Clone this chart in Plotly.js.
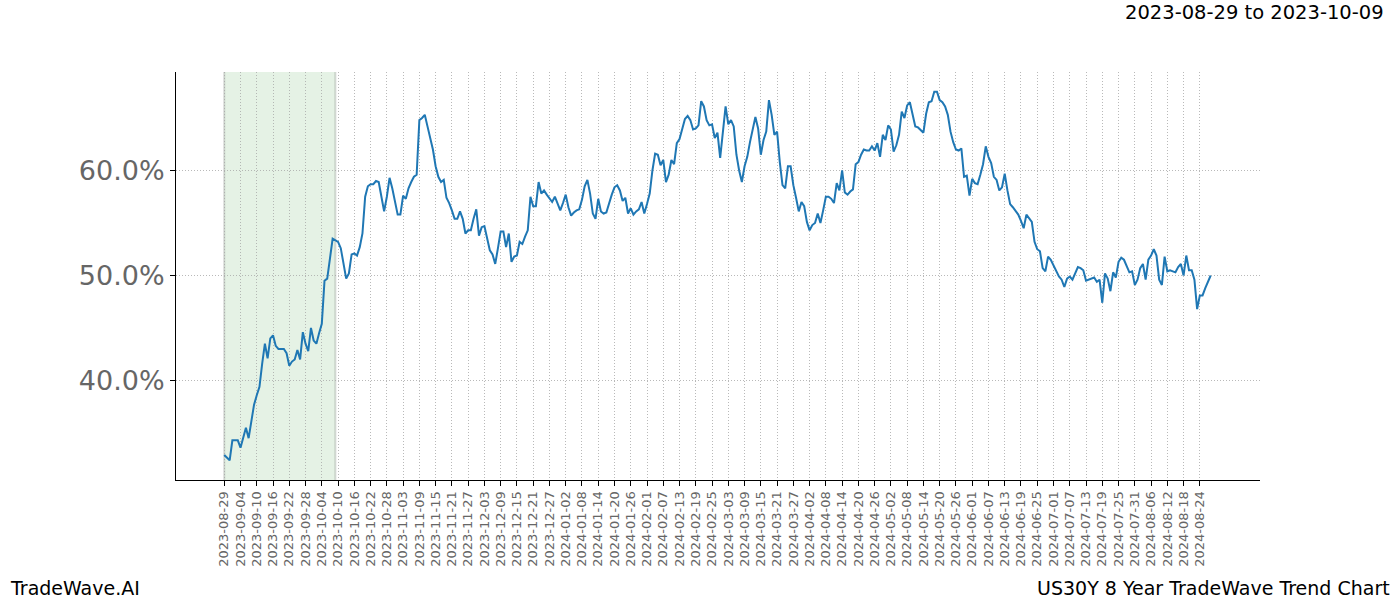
<!DOCTYPE html>
<html><head><meta charset="utf-8">
<script src="https://cdn.plot.ly/plotly-3.0.1.min.js"></script>
<style>html,body{margin:0;padding:0;background:#fff}#chart{width:1400px;height:600px}</style>
</head><body><div id="chart"></div>
<script>
const tickDates = [
 "2023-08-29","2023-09-04","2023-09-10","2023-09-16","2023-09-22","2023-09-28","2023-10-04","2023-10-10",
 "2023-10-16","2023-10-22","2023-10-28","2023-11-03","2023-11-09","2023-11-15","2023-11-21","2023-11-27",
 "2023-12-03","2023-12-09","2023-12-15","2023-12-21","2023-12-27","2024-01-02","2024-01-08","2024-01-14",
 "2024-01-20","2024-01-26","2024-02-01","2024-02-07","2024-02-13","2024-02-19","2024-02-25","2024-03-03",
 "2024-03-09","2024-03-15","2024-03-21","2024-03-27","2024-04-02","2024-04-08","2024-04-14","2024-04-20",
 "2024-04-26","2024-05-02","2024-05-08","2024-05-14","2024-05-20","2024-05-26","2024-06-01","2024-06-07",
 "2024-06-13","2024-06-19","2024-06-25","2024-07-01","2024-07-07","2024-07-13","2024-07-19","2024-07-25",
 "2024-07-31","2024-08-06","2024-08-12","2024-08-18","2024-08-24"
];
const tickStep = 6;

const pointIndex = [
 0,2,3,5,6,8,9,10,11,12,13,14,15,16,17,18,19,20,22,23,24,25,26,27,28,29,30,31,32,33,34,35,36,37,38,40,
 42,43,44,45,46,47,48,49,50,51,52,53,54,55,56,57,58,59,60,61,62,63,64,65,66,67,68,69,70,71,72,73,74,75,
 76,77,78,79,80,81,82,83,84,85,86,87,88,89,90,91,92,93,94,95,96,97,98,99,100,101,102,103,104,105,106,107,
 108,109,110,111,112,113,114,115,116,117,118,119,120,121,122,123,124,125,126,127,128,129,130,131,132,133,
 134,135,136,137,138,139,140,141,142,143,144,145,146,147,148,149,150,151,152,153,154,155,156,157,158,159,
 160,161,162,163,164,165,166,167,168,169,170,171,172,173,174,175,176,177,178,179,180,181,182,183,184,185,
 186,187,188,189,190,191,192,193,194,195,196,197,198,199,200,201,202,203,204,205,206,207,208,209,210,211,
 212,213,214,215,216,217,218,219,220,221,222,223,224,225,226,227,228,229,230,231,232,233,234,235,236,237,
 238,239,240,241,242,243,244,245,246,247,248,249,250,251,252,253,254,255,256,257,258,259,260,261,262,263,
 264,265,266,267,268,269,270,271,272,273,274,275,276,277,278,279,280,281,282,283,284,285,286,287,288,289,
 290,291,292,293,294,295,296,297,298,299,300,301,302,303,304,305,306,307,308,309,310,311,312,313,314,315,
 316,317,318,319,320,321,322,323,324,325,326,327,328,329,330,331,332,333,334,335,336,337,338,339,340,341,
 342,343,344,345,346,347,348,349,350,351,352,353,354,355,356,357,358,359,360,361,362,363,364
];
const trendPct = [
 32.9,32.4,34.3,34.3,33.6,35.5,34.5,36.2,37.7,38.6,39.4,41.6,43.5,42.1,44.0,44.3,43.3,43.0,43.0,42.6,41.4,41.8,42.0,42.9,42.0,44.6,43.5,42.8,45.0,43.8,43.5,44.5,45.4,49.5,49.7,53.5,
 53.2,52.6,51.2,49.7,50.2,52.0,52.1,51.9,52.7,54.0,57.5,58.5,58.7,58.7,59.0,58.9,57.5,56.1,57.5,59.3,58.3,57.2,55.8,55.8,57.6,57.3,58.3,58.9,59.4,59.6,64.8,65.0,65.3,64.2,
 63.2,62.0,60.4,59.4,58.9,59.1,57.4,56.9,56.2,55.4,55.4,56.1,55.4,54.0,54.3,54.3,55.4,56.3,53.8,54.6,54.7,53.4,52.4,52.0,51.1,52.6,54.2,54.2,52.7,54.0,51.3,51.8,
 51.9,53.2,53.0,53.7,54.3,57.5,56.6,56.6,58.9,57.8,58.1,57.7,57.3,57.0,57.5,56.9,56.2,56.9,57.7,56.5,55.7,56.0,56.2,56.3,57.2,58.5,
 59.1,57.8,55.9,55.4,57.3,56.1,55.9,56.0,56.9,57.7,58.4,58.6,58.1,57.1,57.4,55.9,56.4,55.8,56.1,56.3,57.0,55.9,56.8,57.8,60.0,61.6,
 61.5,60.5,61.0,58.9,59.6,61.0,60.6,62.6,63.0,63.9,64.9,65.2,64.8,63.9,64.0,64.3,66.6,66.1,64.8,64.3,64.4,63.1,63.6,61.2,63.6,66.1,
 64.4,64.8,64.2,61.5,60.0,58.9,60.4,61.3,62.7,64.0,65.1,64.0,61.5,62.9,63.7,66.7,65.3,63.4,63.7,60.8,58.6,58.3,60.4,60.4,58.6,57.4,
 56.1,57.0,56.6,55.1,54.3,54.8,55.0,55.9,55.0,56.2,57.5,57.5,57.3,56.9,58.8,58.1,60.0,57.9,57.7,58.0,58.2,60.6,60.8,61.5,62.0,61.9,
 61.9,62.3,61.9,62.6,61.3,63.4,62.9,64.3,63.9,61.8,62.4,63.4,65.6,65.0,66.2,66.5,65.4,64.2,64.1,63.8,63.6,65.4,66.5,66.6,67.5,67.5,
 66.7,66.5,66.1,65.3,63.7,62.7,62.0,61.9,62.1,59.4,59.5,57.6,59.2,58.8,58.7,59.6,60.6,62.3,61.3,60.7,59.4,59.1,58.1,58.4,59.7,58.1,
 56.8,56.5,56.2,55.8,55.2,54.5,55.8,55.4,55.1,53.2,52.5,52.3,50.7,50.4,51.8,51.5,51.0,50.4,49.9,49.6,48.9,49.7,49.9,49.6,50.2,50.8,
 50.7,50.5,49.5,49.6,49.7,49.8,49.4,49.6,47.4,50.2,49.7,48.5,50.3,49.8,51.3,51.7,51.5,50.8,50.3,50.4,49.1,49.6,50.7,51.1,49.6,51.5,
 51.9,52.5,51.9,49.6,49.1,51.8,50.4,50.5,50.4,50.3,50.8,51.1,50.0,51.9,50.5,50.5,49.6,46.8,48.1,48.1,48.8,49.4,50.0
];
const yTicks = [40, 50, 60];
const yTickText = ["40.0%", "50.0%", "60.0%"];
const highlightStart = 0;   // 2023-08-29
const highlightEnd = 41;    // 2023-10-09
const periodLabel = "2023-08-29 to 2023-10-09";
const brandLabel = "TradeWave.AI";
const chartLabel = "US30Y 8 Year TradeWave Trend Chart";

const L = 176, R = 1260, T = 72, B = 480;
const px = v => (v - L) / (R - L);
const py = v => (B - v) / (B - T);
const FONT = "DejaVu Sans, Liberation Sans, sans-serif";
const GRID = {showgrid: true, gridcolor: "#a8a8a8", gridwidth: 0.8, griddash: "1px,2px"};
const EDGE = {color: "rgba(140,150,140,0.35)", width: 2};

const trace = {
  x: pointIndex, y: trendPct, type: "scatter", mode: "lines",
  line: {color: "#1f77b4", width: 2}, hoverinfo: "skip"
};

const layout = {
  width: 1400, height: 600,
  margin: {l: L, r: 1400 - R, t: T, b: 600 - B, pad: 0},
  paper_bgcolor: "#fff", plot_bgcolor: "#fff",
  showlegend: false,
  font: {family: FONT},
  xaxis: Object.assign({
    range: [-17.8, 382.2],
    tickmode: "array",
    tickvals: tickDates.map((_, i) => i * tickStep),
    ticktext: tickDates,
    tickangle: -90,
    tickfont: {family: FONT, size: 13, color: "#666"},
    ticks: "outside", ticklen: 5, tickcolor: "#000", tickwidth: 1,
    showline: true, linecolor: "#000", linewidth: 1,
    zeroline: false, mirror: false
  }, GRID),
  yaxis: Object.assign({
    range: [30.52, 69.38],
    tickmode: "array", tickvals: yTicks, ticktext: yTickText,
    tickfont: {family: FONT, size: 27, color: "#666"},
    ticks: "outside", ticklen: 5, tickcolor: "#000", tickwidth: 1,
    showline: true, linecolor: "#000", linewidth: 1,
    zeroline: false
  }, GRID),
  shapes: [
    {type: "rect", xref: "x", yref: "paper", x0: highlightStart, x1: highlightEnd, y0: 0, y1: 1,
     fillcolor: "rgba(0,128,0,0.1)", line: {width: 0}, layer: "below"},
    {type: "line", xref: "x", yref: "paper", x0: highlightStart, x1: highlightStart, y0: 0, y1: 1, line: EDGE, layer: "below"},
    {type: "line", xref: "x", yref: "paper", x0: highlightEnd, x1: highlightEnd, y0: 0, y1: 1, line: EDGE, layer: "below"}
  ],
  annotations: [
    {text: periodLabel, xref: "paper", yref: "paper", x: px(1386), y: py(12), xanchor: "right", yanchor: "middle",
     showarrow: false, font: {family: FONT, size: 19.5, color: "#000"}},
    {text: brandLabel, xref: "paper", yref: "paper", x: px(8), y: py(588), xanchor: "left", yanchor: "middle",
     showarrow: false, font: {family: FONT, size: 19, color: "#000"}},
    {text: chartLabel, xref: "paper", yref: "paper", x: px(1392), y: py(588), xanchor: "right", yanchor: "middle",
     showarrow: false, font: {family: FONT, size: 19, color: "#000"}}
  ]
};

Plotly.newPlot("chart", [trace], layout, {displayModeBar: false, staticPlot: true});
</script>
</body></html>
